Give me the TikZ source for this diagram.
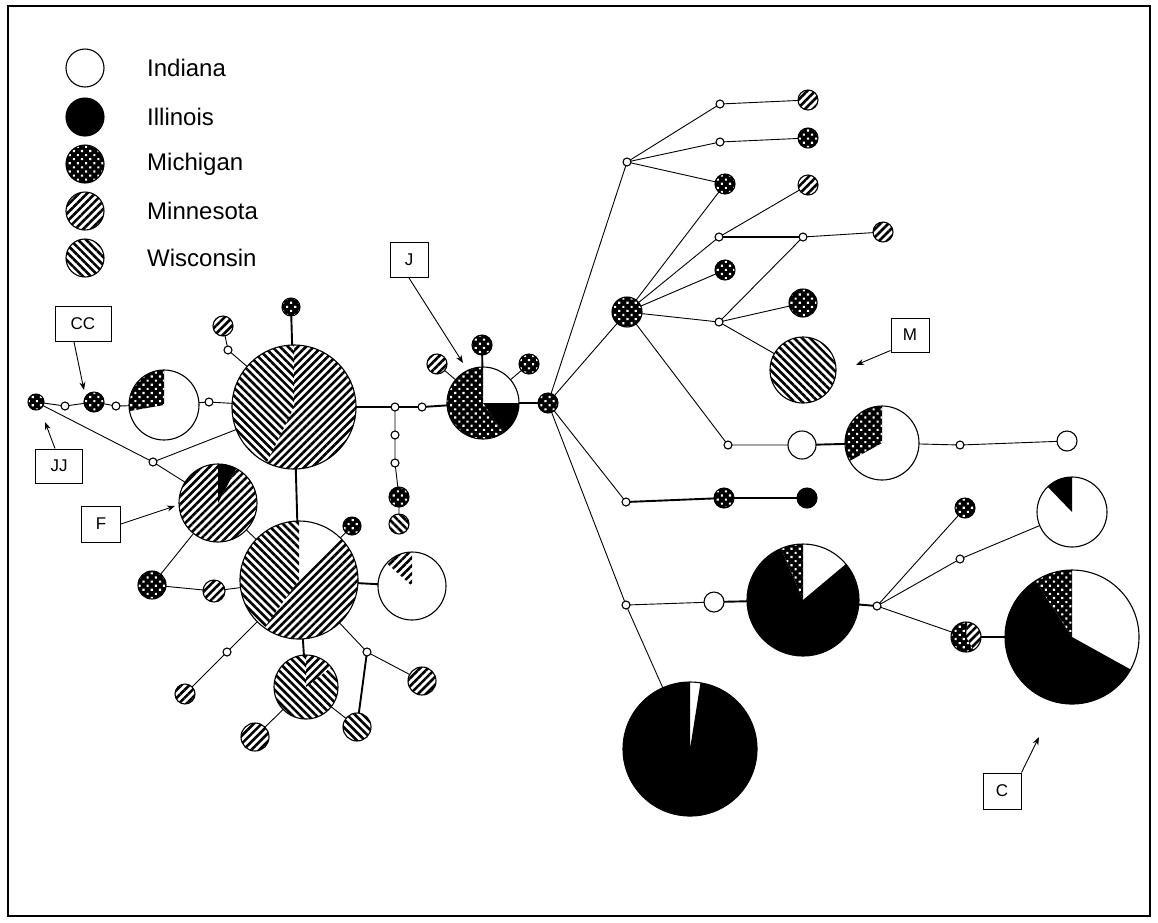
\documentclass[tikz,border=0pt]{standalone}
\usepackage{fontspec}
\setmainfont{Liberation Sans}
\usetikzlibrary{patterns.meta,arrows.meta,calc}
\newcommand\hslice[3]{\fill[#3] (path picture bounding box.center) -- ++(#1:300) arc[start angle=#1,end angle=#2,radius=300] -- cycle;}
\newcommand\sIL[2]{\hslice{#1}{#2}{black}}
\newcommand\sMI[2]{\hslice{#1}{#2}{black}\hslice{#1}{#2}{MIp}}
\newcommand\sMN[2]{\hslice{#1}{#2}{MNp}}
\newcommand\sWI[2]{\hslice{#1}{#2}{WIp}}
\tikzset{
  MNp/.style={pattern={Lines[angle=45,distance=5.6pt,line width=2.6pt]}},
  WIp/.style={pattern={Lines[angle=-45,distance=5.6pt,line width=2.6pt]}},
  MIp/.style={pattern={Dots[angle=45,distance=5.8pt,radius=1.5pt]},pattern color=white},
  hap/.style={circle,draw,line width=1.1pt,inner sep=0pt,outer sep=0pt,fill=white,minimum size={2*#1}},
  sw/.style={circle,draw,line width=1.1pt,inner sep=0pt,outer sep=0pt,fill=white,minimum size=8},
  mi/.style={path picture={\sMI{0}{360}}},
  mn/.style={path picture={\sMN{0}{360}}},
  wi/.style={path picture={\sWI{0}{360}}},
  il/.style={fill=black},
  thin/.style={line width=0.9pt},
  thick/.style={line width=1.9pt},
  lab/.style={draw,line width=1pt,inner sep=0pt,font=\fontsize{17}{20}\selectfont},
  arr/.style={-{Stealth[length=8pt,width=6pt]},line width=0.9pt},
  legt/.style={anchor=west,inner sep=0pt,font=\fontsize{24}{28}\selectfont}
}
\begin{document}
\begin{tikzpicture}[x=1pt,y=-1pt]
\useasboundingbox (0,0) rectangle (1158,922);
\draw[line width=1.5pt] (8,6) rectangle (1150,916);
% legend
\node[hap=19] (lIN) at (85,68) {};
\node[hap=19,il] (lIL) at (85,117) {};
\node[hap=19,mi] (lMI) at (85,164) {};
\node[hap=19,mn] (lMN) at (85,211) {};
\node[hap=19,wi] (lWI) at (85,258) {};
\node[legt] (tIN) at (147,68) {Indiana};
\node[legt] (tIL) at (147,117) {Illinois};
\node[legt] (tMI) at (147,164) {Michigan};
\node[legt] (tMN) at (147,211) {Minnesota};
\node[legt] (tWI) at (147,258) {Wisconsin};
% left cluster
\node[hap=8,mi] (jjn) at (36,402) {};
\node[sw] (w1) at (65,406) {};
\node[hap=10,mi] (ccn) at (94,402) {};
\node[sw] (w2) at (116,406) {};
\node[hap=35,path picture={\sMI{170}{270}}] (p1) at (164,405) {};
\node[sw] (w3) at (209,402) {};
\node[hap=62,path picture={\sWI{116}{270}\sMN{270}{476}}] (bigA) at (294,407) {};
\node[hap=9,mi] (mitop) at (291,307) {};
\node[hap=10,mn] (mnA) at (223,326) {};
\node[sw] (w4) at (228,350) {};
\node[sw] (w5) at (153,462) {};
\node[hap=39,path picture={\sIL{270}{298}\sMN{298}{630}}] (F) at (218,503) {};
\node[hap=59,path picture={\sWI{126}{270}\sMN{315}{486}}] (bigB) at (299,580) {};
\node[hap=9,mi] (mi2) at (352,526) {};
\node[hap=34,path picture={\sMN{222}{270}}] (p2) at (412,586) {};
\node[hap=14,mi] (mi3) at (152,585) {};
\node[hap=11,mn] (mn3) at (214,591) {};
\node[sw] (w6) at (227,652) {};
\node[hap=10,mn] (mn4) at (185,694) {};
\node[hap=32,path picture={\sMN{270}{322}\sWI{322}{630}}] (pC) at (306,687) {};
\node[hap=14,mn] (mn5) at (255,737) {};
\node[hap=14,wi] (wi5) at (357,727) {};
\node[sw] (w7) at (367,652) {};
\node[hap=14,mn] (mn6) at (422,681) {};
\node[sw] (w8) at (395,407) {};
\node[sw] (w9) at (422,407) {};
\node[sw] (w10) at (395,435) {};
\node[sw] (w11) at (395,463) {};
\node[hap=10,mi] (mi4) at (399,497) {};
\node[hap=10,wi] (wi4) at (399,524) {};
% J
\node[hap=36,path picture={\sIL{0}{56}\sMI{56}{270}}] (J) at (483,403) {};
\node[hap=10,mn] (mnJ) at (437,364) {};
\node[hap=10,mi] (miJ1) at (482,345) {};
\node[hap=10,mi] (miJ2) at (529,364) {};
\node[hap=10,mi] (hub1) at (548,403) {};
% right
\node[sw] (sq) at (627,162) {};
\node[sw] (w12) at (720,104) {};
\node[hap=10,mn] (mn7) at (808,100) {};
\node[sw] (w13) at (720,142) {};
\node[hap=10,mi] (mi5) at (808,138) {};
\node[hap=10,mi] (mi6) at (725,184) {};
\node[sw] (w14) at (719,237) {};
\node[hap=10,mn] (mn8) at (808,185) {};
\node[sw] (w15) at (803,237) {};
\node[hap=10,mn] (mn9) at (883,232) {};
\node[hap=10,mi] (mi7) at (725,270) {};
\node[hap=15,mi] (hub2) at (627,312) {};
\node[sw] (w16) at (719,322) {};
\node[hap=14,mi] (mi8) at (803,303) {};
\node[hap=33,wi] (Mn) at (803,370) {};
\node[sw] (w17) at (728,445) {};
\node[hap=14] (in1) at (802,445) {};
\node[hap=37,path picture={\sMI{151}{270}}] (p3) at (882,443) {};
\node[sw] (w18) at (960,445) {};
\node[hap=10] (in2) at (1067,441) {};
\node[sw] (w19) at (626,502) {};
\node[hap=10,mi] (mi9) at (724,498) {};
\node[hap=10,il] (il1) at (807,498) {};
\node[sw] (w20) at (626,605) {};
\node[hap=10] (in3) at (714,602) {};
\node[hap=56,path picture={\sMI{247}{270}\sIL{320}{607}}] (p4) at (803,600) {};
\node[hap=67,path picture={\sIL{279}{630}}] (p5) at (690,749) {};
\node[sw] (hub3) at (877,606) {};
\node[hap=10,mi] (mi10) at (965,508) {};
\node[sw] (w21) at (960,559) {};
\node[hap=35,path picture={\sIL{226}{270}}] (p6) at (1072,512) {};
\node[hap=15,path picture={\sMI{60}{275}\sMN{275}{420}}] (mm) at (966,637) {};
\node[hap=67,path picture={\sIL{29}{237}\sMI{237}{270}}] (pC2) at (1072,637) {};
% edges
\draw[thin] (jjn)--(w1) (w1)--(ccn) (ccn)--(w2) (w2)--(p1) (p1)--(w3) (w3)--(bigA);
\draw[thin] (jjn)--(w5) (w5)--(bigA) (w5)--(F);
\draw[thick] (mitop)--(bigA) (bigA)--(bigB);
\draw[thin] (mnA)--(w4) (w4)--(bigA);
\draw[thick] (bigA)--(w8) (w8)--(w9) (w9)--(J);
\draw[thin] (w8)--(w10) (w10)--(w11) (w11)--(mi4) (mi4)--(wi4);
\draw[thin] (F)--(bigB) (F)--(mi3) (mi3)--(mn3) (mn3)--(bigB) (bigB)--(mi2);
\draw[thick] (bigB)--(p2) (bigB)--(pC);
\draw[thin] (bigB)--(w6) (w6)--(mn4) (pC)--(mn5) (pC)--(wi5);
\draw[thin] (bigB)--(w7) (w7)--(mn6);
\draw[thick] (w7)--(wi5);
\draw[thin] (J)--(mnJ) (J)--(miJ2);
\draw[thick] (J)--(miJ1) (J)--(hub1);
\draw[thin] (hub1)--(sq) (hub1)--(hub2) (hub1)--(w19) (hub1)--(w20);
\draw[thin] (sq)--(w12) (sq)--(w13) (sq)--(mi6) (w12)--(mn7) (w13)--(mi5);
\draw[thin] (hub2)--(mi6) (hub2)--(w14) (hub2)--(mi7) (hub2)--(w16) (hub2)--(w17);
\draw[thin] (w14)--(mn8) (w15)--(mn9) (w15)--(w16) (w16)--(mi8) (w16)--(Mn);
\draw[thick] (w14)--(w15);
\draw[thin] (w17)--(in1) (p3)--(w18) (w18)--(in2);
\draw[thick] (in1)--(p3) (w19)--(mi9) (mi9)--(il1);
\draw[thin] (w20)--(in3) (w20)--(p5);
\draw[thick] (in3)--(p4) (p4)--(hub3);
\draw[thin] (hub3)--(mi10) (hub3)--(w21) (w21)--(p6) (hub3)--(mm);
\draw[thick] (mm)--(pC2);
% labels
\node[lab,minimum width=56,minimum height=35] (cc) at (83,324) {CC};
\node[lab,minimum width=47,minimum height=34] (jj) at (59,466) {JJ};
\node[lab,minimum width=39,minimum height=36] (f) at (101,524) {F};
\node[lab,minimum width=38,minimum height=35] (j) at (409,260) {J};
\node[lab,minimum width=38,minimum height=34] (m) at (910,335) {M};
\node[lab,minimum width=38,minimum height=36] (c) at (1002,791) {C};
\coordinate (ccT) at (84,390);
\coordinate (jjT) at (45,422);
\coordinate (fT) at (175,506);
\coordinate (jT) at (463,363);
\coordinate (mT) at (856,365);
\coordinate (cT) at (1039,737);
\draw[arr] ($(cc.south)+(-9,0)$) -- (ccT);
\draw[arr] ($(jj.north)+(-4,0)$) -- (jjT);
\draw[arr] (f.east) -- (fT);
\draw[arr] (j.south) -- (jT);
\draw[arr] ($(m.south west)+(0,-2)$) -- (mT);
\draw[arr] (c.north east) -- (cT);
\end{tikzpicture}
\end{document}
